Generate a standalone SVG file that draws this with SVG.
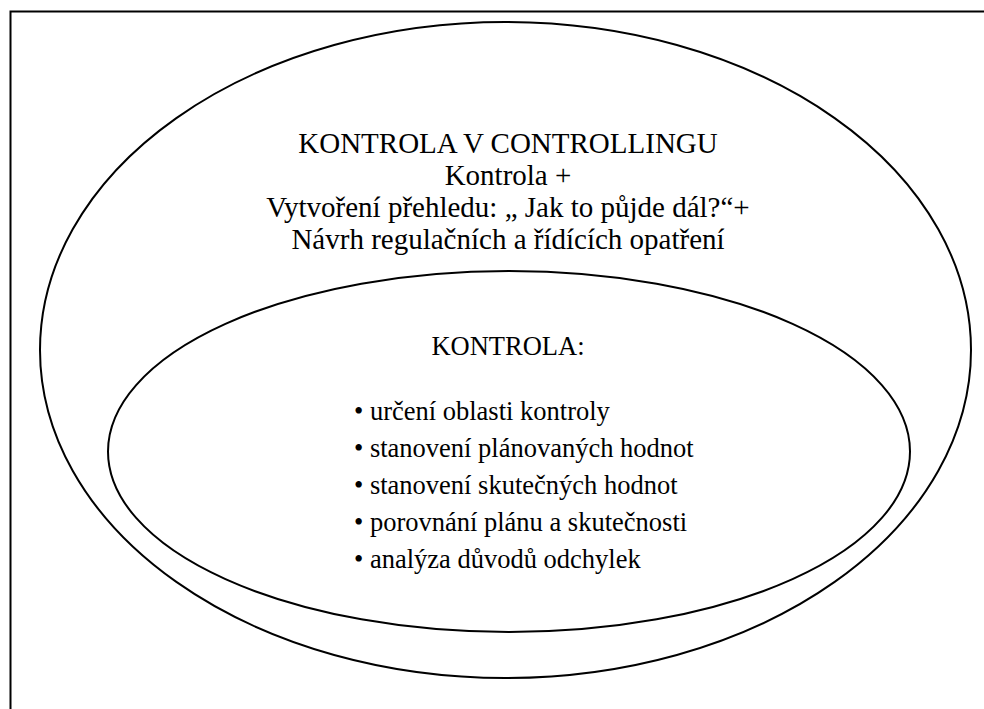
<svg xmlns="http://www.w3.org/2000/svg" width="984" height="709" viewBox="0 0 984 709">
<style>
.shape{fill:none;stroke:#000;stroke-width:2}
.t{font-family:"Liberation Serif","Times New Roman",serif;fill:#000}
.top{font-size:29px;text-anchor:middle}
.in{font-size:26.5px}
</style>
<rect x="0" y="0" width="984" height="709" fill="#fff"/>
<g id="frame"><path class="shape" d="M10.5 709 V11.5 H984"/></g>
<g id="outer">
<ellipse class="shape" cx="505.5" cy="350" rx="465.5" ry="328"/>
<text class="t top" x="508" y="153">KONTROLA V CONTROLLINGU</text>
<text class="t top" x="508" y="185">Kontrola +</text>
<text class="t top" x="508" y="217">Vytvoření přehledu: „ Jak to půjde dál?“+</text>
<text class="t top" x="508" y="249">Návrh regulačních a řídících opatření</text>
</g>
<g id="inner">
<ellipse class="shape" cx="509" cy="451.5" rx="401" ry="180.5"/>
<text class="t in" x="508" y="355" text-anchor="middle">KONTROLA:</text>
<text class="t in" x="354" y="420">• určení oblasti kontroly</text>
<text class="t in" x="354" y="457">• stanovení plánovaných hodnot</text>
<text class="t in" x="354" y="494">• stanovení skutečných hodnot</text>
<text class="t in" x="354" y="531">• porovnání plánu a skutečnosti</text>
<text class="t in" x="354" y="568">• analýza důvodů odchylek</text>
</g>
<g id="connectors"/>
</svg>
